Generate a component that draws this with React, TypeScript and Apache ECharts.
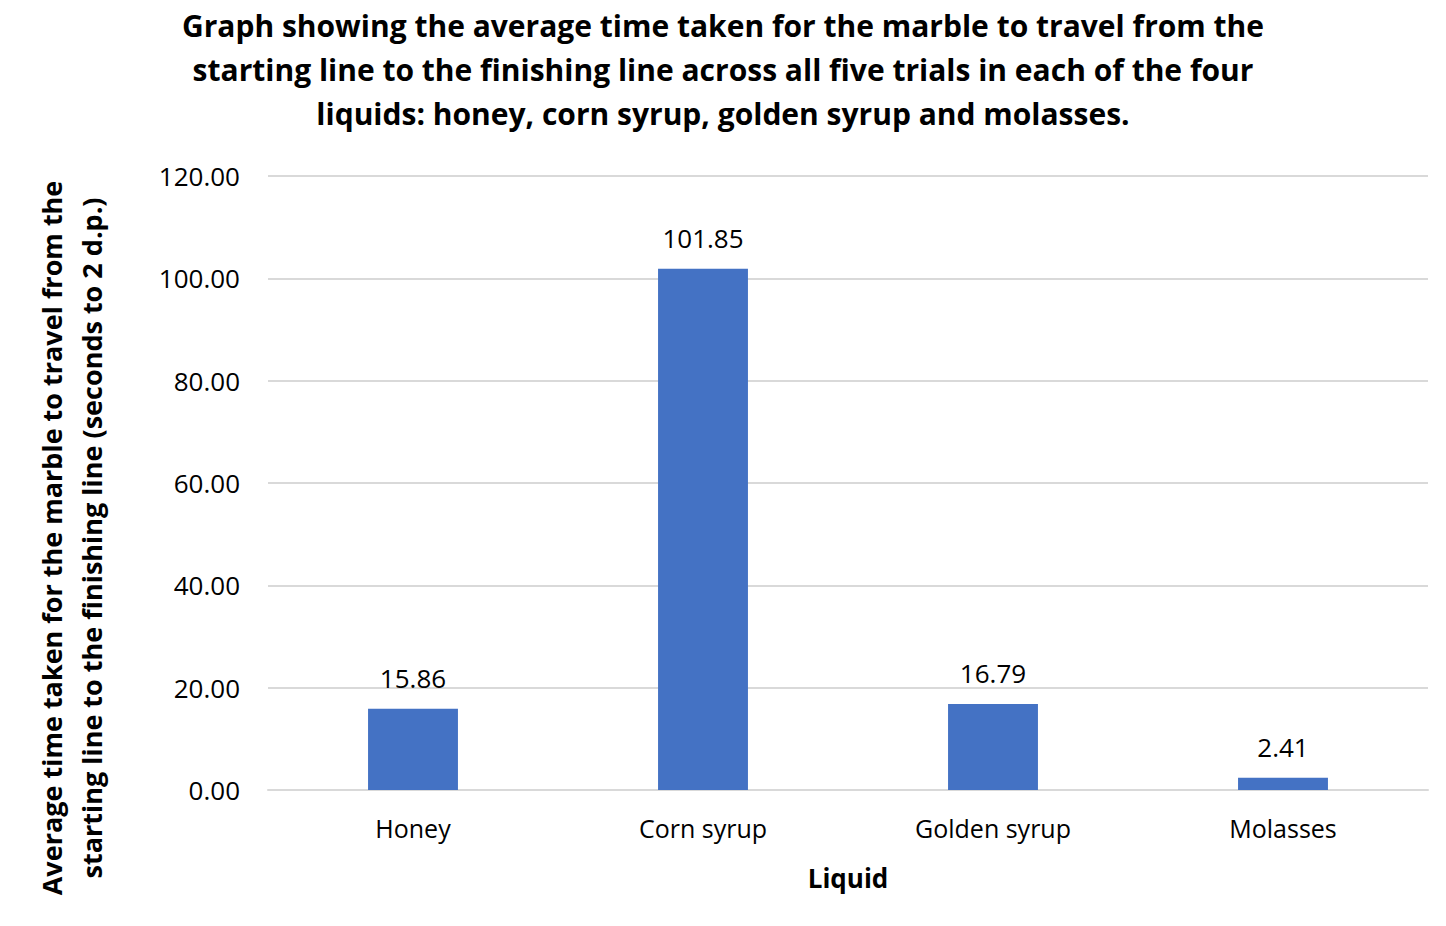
import React, { useEffect, useRef } from "react";
import * as echarts from "echarts";

const categories = ["Honey", "Corn syrup", "Golden syrup", "Molasses"];
const values = [15.86, 101.85, 16.79, 2.41];
const titleLines = [
  "Graph showing the average time taken for the marble to travel from the",
  "starting line to the finishing line across all five trials in each of the four",
  "liquids: honey, corn syrup, golden syrup and molasses.",
];
const yNameLines = [
  "Average time taken for the marble to travel from the",
  "starting line to the finishing line (seconds to 2 d.p.)",
];
const xName = "Liquid";

const FONT = "'Open Sans', 'Noto Sans', sans-serif";

export default function App() {
  const ref = useRef<HTMLDivElement>(null);
  useEffect(() => {
    document.body.style.margin = "0";
    const chart = echarts.init(ref.current!, null, { renderer: "svg" });
    chart.setOption({
      animation: false,
      backgroundColor: "#ffffff",
      textStyle: { fontFamily: FONT },
      grid: { left: 268, right: 18, top: 176, bottom: 136, containLabel: false },
      xAxis: {
        type: "category",
        data: categories,
        name: xName,
        nameLocation: "middle",
        nameGap: 75,
        nameTextStyle: { fontFamily: FONT, fontWeight: "bold", fontSize: 26, color: "#000" },
        axisLine: { lineStyle: { color: "#d9d9d9", width: 2 } },
        axisTick: { show: false },
        axisLabel: { fontFamily: FONT, fontSize: 25, color: "#000", margin: 25 },
      },
      yAxis: {
        type: "value",
        min: 0,
        max: 120,
        interval: 20,
        axisLine: { show: false },
        axisTick: { show: false },
        axisLabel: {
          fontFamily: FONT,
          fontSize: 26,
          color: "#000",
          margin: 28,
          formatter: (v: number) => v.toFixed(2),
        },
        splitLine: { lineStyle: { color: "#d9d9d9", width: 2 } },
      },
      graphic: [
        {
          type: "text",
          x: 723,
          y: 69,
          style: {
            text: titleLines.join("\n"),
            font: `bold 30px ${FONT}`,
            fill: "#000",
            align: "center",
            verticalAlign: "middle",
            lineHeight: 44,
          },
        },
        {
          type: "text",
          x: 71,
          y: 538,
          rotation: Math.PI / 2,
          style: {
            text: yNameLines.join("\n"),
            font: `bold 27px ${FONT}`,
            fill: "#000",
            align: "center",
            verticalAlign: "middle",
            lineHeight: 40,
          },
        },
      ],
      series: [
        {
          type: "bar",
          data: values,
          barWidth: "31%",
          itemStyle: { color: "#4472C4" },
          label: {
            show: true,
            position: "top",
            distance: 18,
            fontFamily: FONT,
            fontSize: 26,
            color: "#000",
            formatter: (p: any) => p.value.toFixed(2),
          },
        },
      ],
    });
    return () => chart.dispose();
  }, []);
  return <div ref={ref} style={{ width: 1446, height: 926 }} />;
}
